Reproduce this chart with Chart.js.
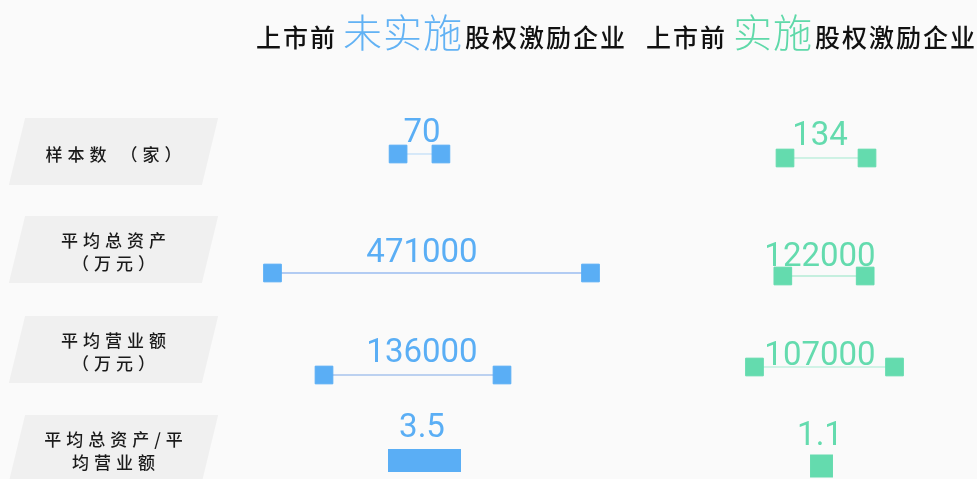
<!DOCTYPE html>
<html>
<head>
<meta charset="utf-8">
<script src="https://cdn.jsdelivr.net/npm/chart.js@4"></script>
<style>
  html, body { margin: 0; padding: 0; background: #fafafa; }
  #wrap { position: relative; width: 977px; height: 479px; overflow: hidden; font-family: "Noto Sans CJK SC", sans-serif; }
  #chart { position: absolute; left: 0; top: 0; }
  .title { position: absolute; top: 2px; display: flex; align-items: baseline; white-space: nowrap; color: #111; }
  .title .dark { font-size: 25px; letter-spacing: 2px; font-weight: 500; }
  .title .hl { font-size: 39px; letter-spacing: 1px; font-weight: 300; margin: 0 2px 0 6px; }
  .tag { position: absolute; left: 17px; width: 193px; height: 67px; }
  .tag::before { content: ''; position: absolute; inset: 0; background: #f0f0f0; transform: skewX(-13.6deg); }
  .tag .txt { position: relative; height: 100%; display: flex; flex-direction: column; justify-content: center; align-items: center;
              font-size: 17px; line-height: 23px; letter-spacing: 5px; padding-left: 5px; padding-top: 3px; box-sizing: border-box;
              color: #1a1a1a; font-weight: 500; }
</style>
</head>
<body>
<div id="wrap">
  <canvas id="chart" width="977" height="479"></canvas>
  <div class="title" style="left:256px"><span class="dark">上市前</span><span class="hl" style="color:#62b2f4">未实施</span><span class="dark">股权激励企业</span></div>
  <div class="title" style="left:646px"><span class="dark">上市前</span><span class="hl" style="color:#5fd9a9">实施</span><span class="dark">股权激励企业</span></div>
</div>
<script>
// indicators (one row each)
const categories = [['样本数 （家）'], ['平均总资产', '（万元）'], ['平均营业额', '（万元）'], ['平均总资产/平', '均营业额']];
// companies without equity incentive before listing
const withoutIncentive = [70, 471000, 136000, 3.5];
// companies with equity incentive before listing
const withIncentive = [134, 122000, 107000, 1.1];

// layout: half length of the widest mark in each row, and row positions
const rowHalfSpan = [41, 159, 89, 36.5];
const tagTops = [118, 216, 316, 415];

const columns = [
  { values: withoutIncentive, color: '#5aaef5', lines: ['#b3d7f7', '#6a9deb', '#7fa8e6'],
    labelX: 422, baselines: [142, 262, 362, 437], markX: [419.5, 431.5, 413, 424.5], markY: [154, 273, 375, 460.5] },
  { values: withIncentive, color: '#64dbae', lines: ['#a3e9cf', '#90e4c3', '#a8ecd3'],
    labelX: 820, baselines: [145, 266, 365, 445], markX: [826, 824, 824.5, 821.5], markY: [158, 276, 367, 466] }
];

// row labels on skewed tags
const wrap = document.getElementById('wrap');
categories.forEach((lines, r) => {
  const tag = document.createElement('div');
  tag.className = 'tag';
  tag.style.top = tagTops[r] + 'px';
  const txt = document.createElement('div');
  txt.className = 'txt';
  lines.forEach(l => {
    const s = document.createElement('div');
    s.textContent = l;
    txt.appendChild(s);
  });
  tag.appendChild(txt);
  wrap.appendChild(tag);
});

const rowMax = categories.map((_, r) => Math.max(withoutIncentive[r], withIncentive[r]));

const datasets = [];
columns.forEach(col => {
  col.values.forEach((v, r) => {
    const half = v / rowMax[r] * rowHalfSpan[r];
    const cx = col.markX[r], cy = col.markY[r];
    const pts = [{ x: cx - half, y: cy }, { x: cx + half, y: cy }];
    if (r === categories.length - 1) {
      // ratio row: a solid bar
      datasets.push({ data: pts, showLine: true, borderColor: col.color, borderWidth: 23,
        borderCapStyle: 'butt', pointRadius: 0, clip: false });
    } else {
      // dumbbell: thin line with square ends
      datasets.push({ data: pts, showLine: true, borderColor: col.lines[r], borderWidth: 1,
        pointStyle: 'rect', pointRadius: 12.5, pointBackgroundColor: col.color,
        pointBorderColor: col.color, pointBorderWidth: 1, clip: false });
    }
  });
});

const valueLabels = {
  id: 'valueLabels',
  afterDatasetsDraw(chart) {
    const ctx = chart.ctx;
    ctx.save();
    ctx.font = '33px Roboto';
    ctx.textAlign = 'center';
    ctx.textBaseline = 'alphabetic';
    columns.forEach(col => {
      ctx.fillStyle = col.color;
      col.values.forEach((v, r) => {
        ctx.fillText(String(v), col.labelX, col.baselines[r]);
      });
    });
    ctx.restore();
  }
};

new Chart(document.getElementById('chart'), {
  type: 'scatter',
  data: { datasets },
  options: {
    responsive: false,
    animation: false,
    layout: { padding: 0, autoPadding: false },
    scales: {
      x: { type: 'linear', min: 0, max: 977, display: false },
      y: { type: 'linear', min: 0, max: 479, reverse: true, display: false }
    },
    plugins: { legend: { display: false }, tooltip: { enabled: false } }
  },
  plugins: [valueLabels]
});
</script>
</body>
</html>
